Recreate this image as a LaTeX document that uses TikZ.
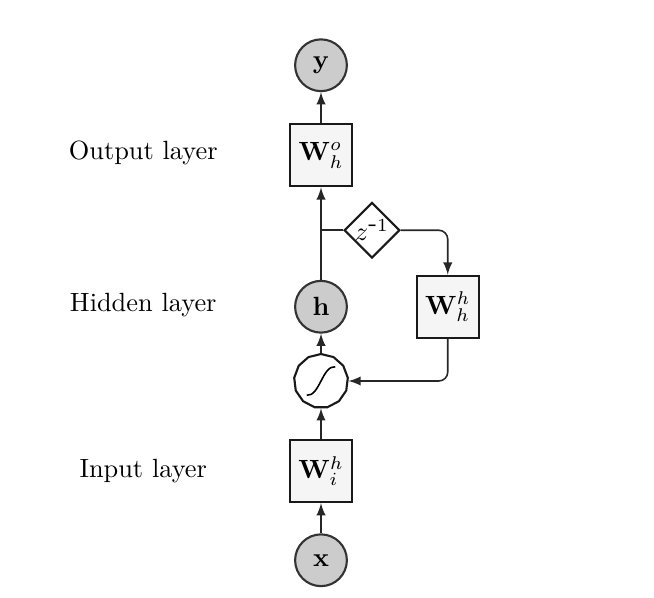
\documentclass[tikz,border=0pt]{standalone}
\usepackage{tikz}
\usetikzlibrary{shapes.geometric}

\begin{document}
\begin{tikzpicture}[>=latex,
  unit/.style={circle, draw=black!80, fill=black!20, thick, minimum size=0.69cm, inner sep=0pt},
  weight/.style={rectangle, draw=black!90, fill=black!4, thick, minimum size=0.83cm, inner sep=0pt},
  delay/.style={diamond, draw=black!90, fill=white, thick, minimum size=0.74cm, inner sep=0pt},
  squash/.style={regular polygon, regular polygon sides=13, draw=black!90, fill=white, thick, minimum size=0.72cm, inner sep=0pt},
  link/.style={semithick, black!85}]

\useasboundingbox (0,0) rectangle (8.72,7.96);

\node (outlabel) at (1.91,5.92) {Output layer};

\node (hidlabel) at (1.91,3.89) {Hidden layer};

\node (inlabel) at (1.91,1.68) {Input layer};

\node[unit] (x) at (4.28,0.49) {$\mathbf{x}$};

\node[weight] (wih) at (4.28,1.68) {$\mathbf{W}^{h}_{i}$};

\node[squash] (sig) at (4.28,2.88) {};

\draw[semithick] ([xshift=-0.19cm,yshift=-0.19cm]sig.center) .. controls ([xshift=-0.02cm,yshift=-0.21cm]sig.center) and ([xshift=0.02cm,yshift=0.21cm]sig.center) .. ([xshift=0.19cm,yshift=0.19cm]sig.center);

\node[unit] (h) at (4.28,3.87) {$\mathbf{h}$};

\node[delay] (z) at (4.96,4.89) {$z^{\textrm{-}1}$};

\node[weight] (whh) at (5.97,3.87) {$\mathbf{W}^{h}_{h}$};

\node[weight] (who) at (4.28,5.89) {$\mathbf{W}^{o}_{h}$};

\node[unit] (y) at (4.28,7.09) {$\mathbf{y}$};

\coordinate (split) at (h |- z.west);

\draw[link,->] (x) -- (wih);

\draw[link,->] (wih) -- (sig);

\draw[link,->] (sig) -- (h);

\draw[link,->] (h) -- (who);

\draw[link,->] (who) -- (y);

\draw[link] (split) -- (z.west);

\draw[link,->,rounded corners=0.12cm] (z.east) -| (whh.north);

\draw[link,->,rounded corners=0.12cm] (whh.south) |- (sig.east);

\end{tikzpicture}
\end{document}
